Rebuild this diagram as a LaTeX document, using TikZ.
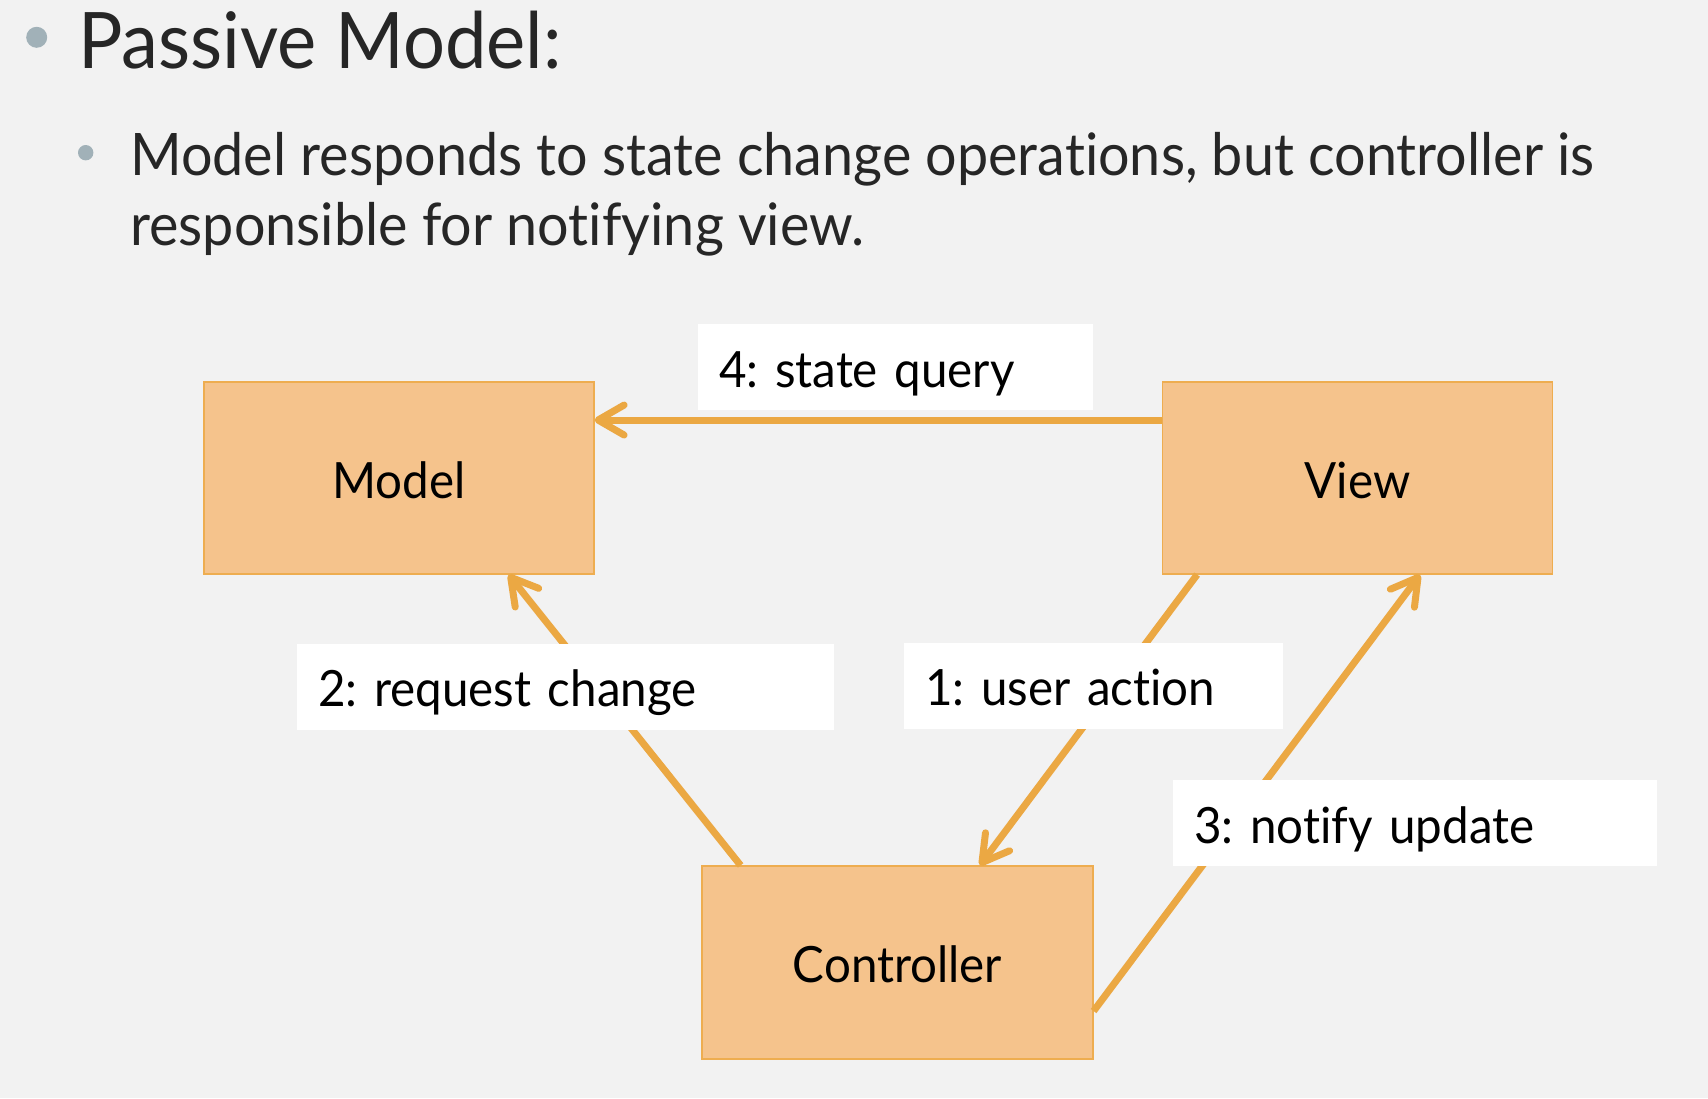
\documentclass[tikz,border=0pt]{standalone}
\usepackage{fontspec}
\setmainfont{Lato}[FakeStretch=0.95, Ligatures=NoCommon]
\usetikzlibrary{arrows.meta,calc}
\definecolor{bg}{HTML}{F2F2F2}
\definecolor{boxfill}{HTML}{F5C38C}
\definecolor{boxline}{HTML}{EEAD50}
\definecolor{arrowc}{HTML}{EBA843}
\definecolor{bulletc}{HTML}{A1B1B8}
\definecolor{txt}{HTML}{262626}
\tikzset{
  box/.style={draw=boxline, fill=boxfill, line width=1.2pt, minimum width=390pt,
    minimum height=192pt, inner sep=0pt, font=\fontsize{50}{60}\selectfont,
    text height=40pt, text depth=0pt},
  lbl/.style={fill=white, inner xsep=21pt, inner ysep=0pt, align=left,
    font=\fontsize{50}{60}\selectfont, text height=40pt, text depth=0pt,
    minimum height=86pt},
  flow/.style={draw=arrowc, line width=7pt,
    -{Straight Barb[length=26pt,width=30pt,line cap=round,line join=round]}},
  bullet/.style={circle, fill=bulletc, inner sep=0pt},
  heading/.style={anchor=base west, inner sep=0pt, text=txt}
}
\frenchspacing
\begin{document}
\frenchspacing
\begin{tikzpicture}[x=1pt,y=-1pt]
\fill[bg] (0,0) rectangle (1708,1098);
\useasboundingbox (0,0) rectangle (1708,1098);

% headings
\node[bullet, minimum size=21pt] (b1) at (36.7,37.3) {};
\node[heading, font=\fontsize{78}{90}\selectfont] (title) at (78,68) {Passive Model:};
\node[bullet, minimum size=15.4pt] (b2) at (85.7,152.7) {};
\node[heading, font=\fontsize{58.6}{70}\selectfont] (line1) at (130,175) {Model responds to state change operations, but controller is};
\node[heading, font=\fontsize{58.6}{70}\selectfont] (line2) at (130,245) {responsible for notifying view.};

% boxes
\node[box] (model) at (399,478) {Model};
\node[box] (view) at (1357.5,478) {View};
\node[box, minimum width=391pt, minimum height=193pt] (ctrl) at (897.5,962.5) {Controller};

% connectors
\draw[flow] ($(view.north west)!0.2!(view.south west)$) -- ($(model.north east)!0.2!(model.south east)$);
\draw[flow] ($(ctrl.north west)!0.1!(ctrl.north east)$) -- ($(model.south west)!0.78!(model.south east)$);
\draw[flow] ($(view.south west)!0.09!(view.south east)$) -- ($(ctrl.north west)!0.71!(ctrl.north east)$);
\draw[flow] ($(ctrl.north east)!0.75!(ctrl.south east)$) -- ($(view.south west)!0.66!(view.south east)$);

% labels
\node[lbl, text width=353pt] (l4) at (895.5,367) {4: state query};
\node[lbl, text width=495pt] (l2) at (565.5,686.5) {2: request change};
\node[lbl, text width=337pt] (l1) at (1093.5,685.5) {1: user action};
\node[lbl, text width=442pt] (l3) at (1415,823) {3: notify update};
\end{tikzpicture}
\end{document}
